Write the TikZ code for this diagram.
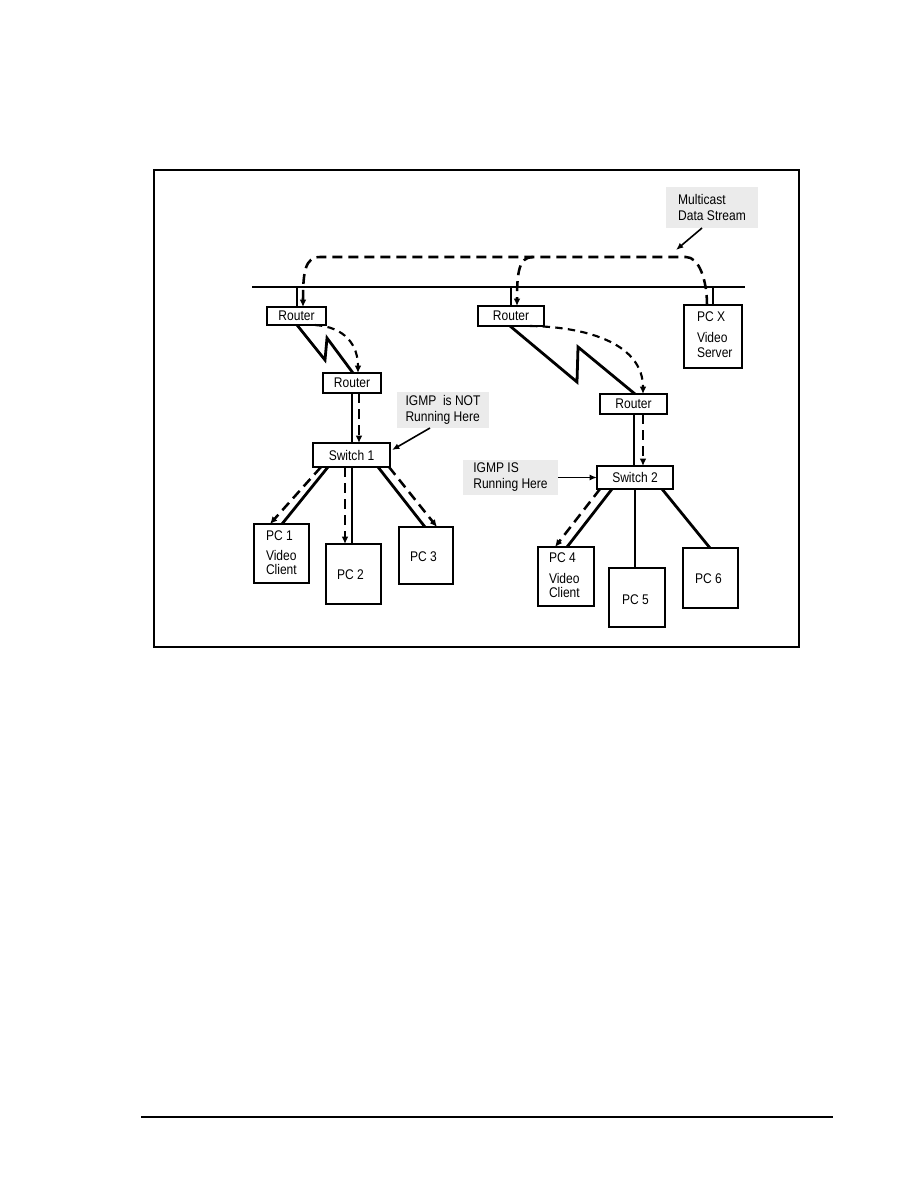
\documentclass[tikz,border=0pt]{standalone}
\usepackage{fontspec}
\setmainfont{Liberation Sans}[FakeStretch=0.86]
\usetikzlibrary{arrows.meta}
\newcommand\lblfont{\fontsize{10.5pt}{11pt}\selectfont}
\newcommand\notefont{\fontsize{10.5pt}{12pt}\selectfont}
\begin{document}
\begin{tikzpicture}[x=0.75pt,y=-0.75pt,
  sz/.style 2 args={minimum width={#1*0.75pt},minimum height={#2*0.75pt}},
  box/.style={draw,line width=1.4pt,inner sep=0pt,outer sep=0pt,font=\lblfont},
  txt/.style={inner sep=0pt,outer sep=0pt,font=\lblfont,align=left,anchor=west},
  note/.style={fill=black!8,inner sep=0pt,outer sep=0pt,font=\notefont,align=left},
  link/.style={line width=2.1pt},
  bus/.style={line width=1pt},
  dflow/.style={line width=1.9pt,dash pattern=on 7.5pt off 4.5pt},
  dflowc/.style={line width=1.6pt,dash pattern=on 5.5pt off 4pt},
  tip/.style={-{Latex[length=5.5pt,width=5pt]}},
  ann/.style={line width=1.2pt,-{Latex[length=5.5pt,width=4.5pt]}}]
\useasboundingbox (0,0) rectangle (918,1188);

% frame and footer rule
\node[draw,line width=0.8pt,sz={645}{477},inner sep=0pt] (frame) at (476.5,408.5) {};
\draw[line width=1pt] (141,1117) -- (833,1117);

% bus
\coordinate (busL) at (252,287);
\coordinate (busR) at (745,287);
\draw[bus] (busL) -- (busR);

% devices
\node[box,sz={59}{18}] (R1) at (296.5,316) {Router};
\node[box,sz={58}{20}] (R2) at (352,383) {Router};
\node[box,sz={77}{24}] (S1) at (351.5,455) {Switch 1};
\node[box,sz={66}{20}] (R3) at (511,316) {Router};
\node[box,sz={67}{20}] (R4) at (633.5,404) {Router};
\node[box,sz={76}{23}] (S2) at (635,477.5) {Switch 2};
\node[box,sz={58}{63}] (PCX) at (713,336.5) {};
\node[box,sz={55}{59}] (PC1) at (281.5,553.5) {};
\node[box,sz={55}{60}] (PC2) at (353.5,574) {};
\node[box,sz={54}{57}] (PC3) at (426,555.5) {};
\node[box,sz={56}{59}] (PC4) at (566,576.5) {};
\node[box,sz={56}{59}] (PC5) at (637,597.5) {};
\node[box,sz={55}{60}] (PC6) at (710.5,578) {};

% device texts
\node[txt] (pcxa) at (697,317) {PC X};
\node[txt] (pcxb) at (697,345) {Video\\Server};
\node[txt] (pc1a) at (266,536) {PC 1};
\node[txt] (pc1b) at (266,562.5) {Video\\Client};
\node[txt] (pc2a) at (337,575) {PC 2};
\node[txt] (pc3a) at (410,557) {PC 3};
\node[txt] (pc4a) at (549,558) {PC 4};
\node[txt] (pc4b) at (549,585.5) {Video\\Client};
\node[txt] (pc5a) at (622,600) {PC 5};
\node[txt] (pc6a) at (695,579) {PC 6};

% notes
\node[note,sz={92}{41}] (mc) at (712,207.5) {Multicast\\Data Stream};
\node[note,sz={92}{36}] (igmpnot) at (443,410) {IGMP\ \ is NOT\\Running Here};
\node[note,sz={95}{35}] (igmpis) at (510.5,477.5) {IGMP IS\\Running Here};

% drops from the bus
\coordinate (b1) at (297,287);
\coordinate (b3) at (511,287);
\coordinate (bx) at (713,287);
\draw[bus] (b1) -- (b1 |- R1.north);
\draw[bus] (b3) -- (b3 |- R3.north);
\draw[bus] (bx) -- (bx |- PCX.north);

% multicast stream along the top
\draw[dflow,tip] (PCX.north -| 707,0) .. controls (707,280) and (699,257) .. (686,257)
   -- (320,257) .. controls (305,257) and (303,272) .. (R1.north -| 303,0);
\coordinate (j3) at (533,257);
\draw[dflow,tip] (j3) .. controls (519,257) and (517,272) .. (R3.north -| 517,0);

% left branch
\draw[link] (R1.south -| 297,0) -- (325,360) -- (327,338) -- (R2.north -| 353,0);
\draw[dflowc,tip] (R1.south -| 315,0) .. controls (345,327) and (358,345) .. (R2.north -| 358,0);
\draw[link] (R2.south -| 352,0) -- (S1.north -| 352,0);
\draw[dflow,tip] (R2.south -| 359,0) -- (S1.north -| 359,0);
\draw[link] (S1.south -| 328,0) -- (PC1.north -| 282,0);
\draw[dflow,tip] (S1.south -| 321,0) -- (PC1.north -| 270,0);
\draw[link] (S1.south -| 352,0) -- (PC2.north -| 352,0);
\draw[dflow,tip] (S1.south -| 345,0) -- (PC2.north -| 345,0);
\draw[link] (S1.south -| 378,0) -- (PC3.north -| 425,0);
\draw[dflow,tip] (S1.south -| 389,0) -- (PC3.north -| 437,0);

% right branch
\draw[link] (R3.south -| 510,0) -- (577,382) -- (578,347) -- (R4.north -| 635,0);
\draw[dflowc,tip] (R3.south -| 530,0) .. controls (590,327) and (643,345) .. (R4.north -| 643,0);
\draw[link] (R4.south -| 634,0) -- (S2.north -| 634,0);
\draw[dflow,tip] (R4.south -| 643,0) -- (S2.north -| 643,0);
\draw[link] (S2.south -| 612,0) -- (PC4.north -| 567,0);
\draw[dflow,tip] (S2.south -| 600,0) -- (PC4.north -| 555,0);
\draw[link] (S2.south -| 635,0) -- (PC5.north -| 635,0);
\draw[link] (S2.south -| 662,0) -- (PC6.north -| 710,0);

% annotation arrows
\coordinate (mctip) at (676,250);
\draw[ann] (mc.south -| 702,0) -- (mctip);
\coordinate (s1tip) at (392,450);
\draw[ann] (igmpnot.south -| 430,0) -- (s1tip);
\draw[ann] (igmpis.east) -- (S2.west);
\end{tikzpicture}
\end{document}
